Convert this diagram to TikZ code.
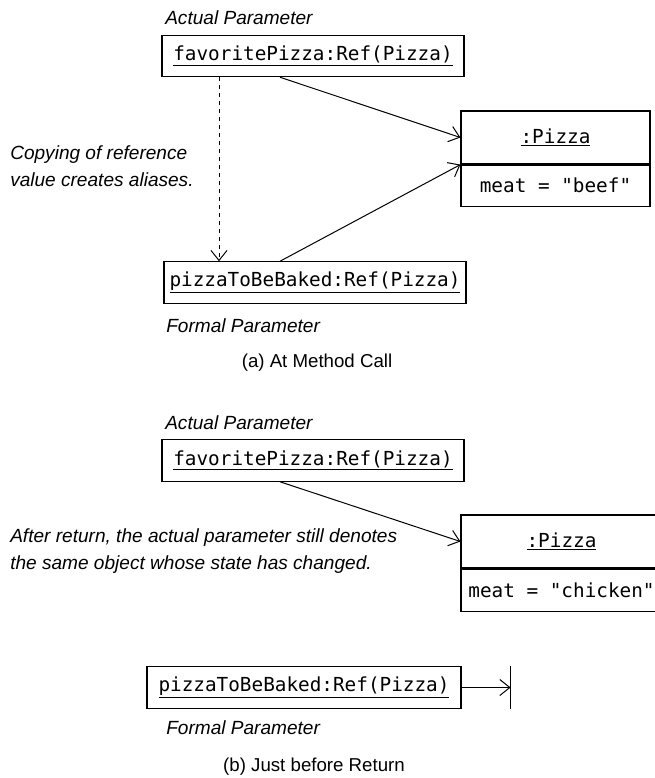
\documentclass[tikz,border=0pt]{standalone}
\usepackage{fontspec}
\setmainfont{Liberation Sans}
\newfontfamily\codefont{DejaVu Sans Mono}
\usetikzlibrary{positioning,arrows.meta}
\tikzset{
  obj/.style={draw, line width=0.9pt, inner sep=0pt, minimum height=31pt, font=\codefont\fontsize{14.5}{17}\selectfont},
  note/.style={inner sep=0pt, font=\itshape\fontsize{14.3}{20.25}\selectfont, align=left},
  caption/.style={inner sep=0pt, font=\fontsize{14}{17}\selectfont},
  ref/.style={line width=0.75pt, -{Straight Barb[length=7.5pt,width=12pt]}},
}
\begin{document}
\begin{tikzpicture}[x=0.75pt,y=-0.75pt]
    \useasboundingbox (0,0) rectangle (654,778);

    % (a) at method call
    \node[note, anchor=west] (actA) at (165,18) {Actual Parameter};
    \node[obj, minimum width=226.5pt] (favA) at (313,56) {\underline{favoritePizza:Ref(Pizza)}};
    \node[obj, minimum width=141.75pt, minimum height=39.75pt] (pizzaA) at (555.5,137.5) {\underline{:Pizza}};
    \node[obj, minimum width=141.75pt, minimum height=30.75pt, below=0pt of pizzaA] (meatA) {meat = "beef"};
    \node[obj, minimum width=226.5pt] (bakeA) at (315,282.5) {\underline{pizzaToBeBaked:Ref(Pizza)}};
    \node[note, anchor=west] (copy) at (10,166) {Copying of reference\\value creates aliases.};
    \node[note, anchor=west] (formA) at (166,326) {Formal Parameter};
    \node[caption] (capA) at (317,363) {(a) At Method Call};

    \coordinate (cpy) at ([xshift=-70.5pt]favA.south);
    \draw[ref, dash pattern=on 3pt off 3pt] (cpy) -- (cpy |- bakeA.north);
    \draw[ref] ([xshift=-24.75pt]favA.south) -- (pizzaA.west);
    \draw[ref] ([xshift=-26.25pt]bakeA.north) -- (pizzaA.south west);

    % (b) just before return
    \node[note, anchor=west] (actB) at (165,423) {Actual Parameter};
    \node[obj, minimum width=226.5pt] (favB) at (313,460.5) {\underline{favoritePizza:Ref(Pizza)}};
    \node[obj, minimum width=150.75pt, minimum height=39.75pt] (pizzaB) at (561.5,541.5) {\underline{:Pizza}};
    \node[obj, minimum width=150.75pt, minimum height=31.5pt, below=0pt of pizzaB] (meatB) {meat = "chicken"};
    \node[note, anchor=west] (after) at (10,551) {After return, the actual parameter still denotes\\the same object whose state has changed.};
    \node[obj, minimum width=235.5pt] (bakeB) at (304,687.5) {\underline{pizzaToBeBaked:Ref(Pizza)}};
    \node[note, anchor=west] (formB) at (166,728) {Formal Parameter};
    \node[caption] (capB) at (314,767) {(b) Just before Return};

    \draw[ref] ([xshift=-24.75pt]favB.south) -- (pizzaB.west);
    \coordinate (nul) at ([xshift=36.75pt]bakeB.east);
    \draw[ref] (bakeB.east) -- (nul);
    \draw[line width=0.9pt] (bakeB.north -| nul) -- (bakeB.south -| nul);
\end{tikzpicture}
\end{document}
